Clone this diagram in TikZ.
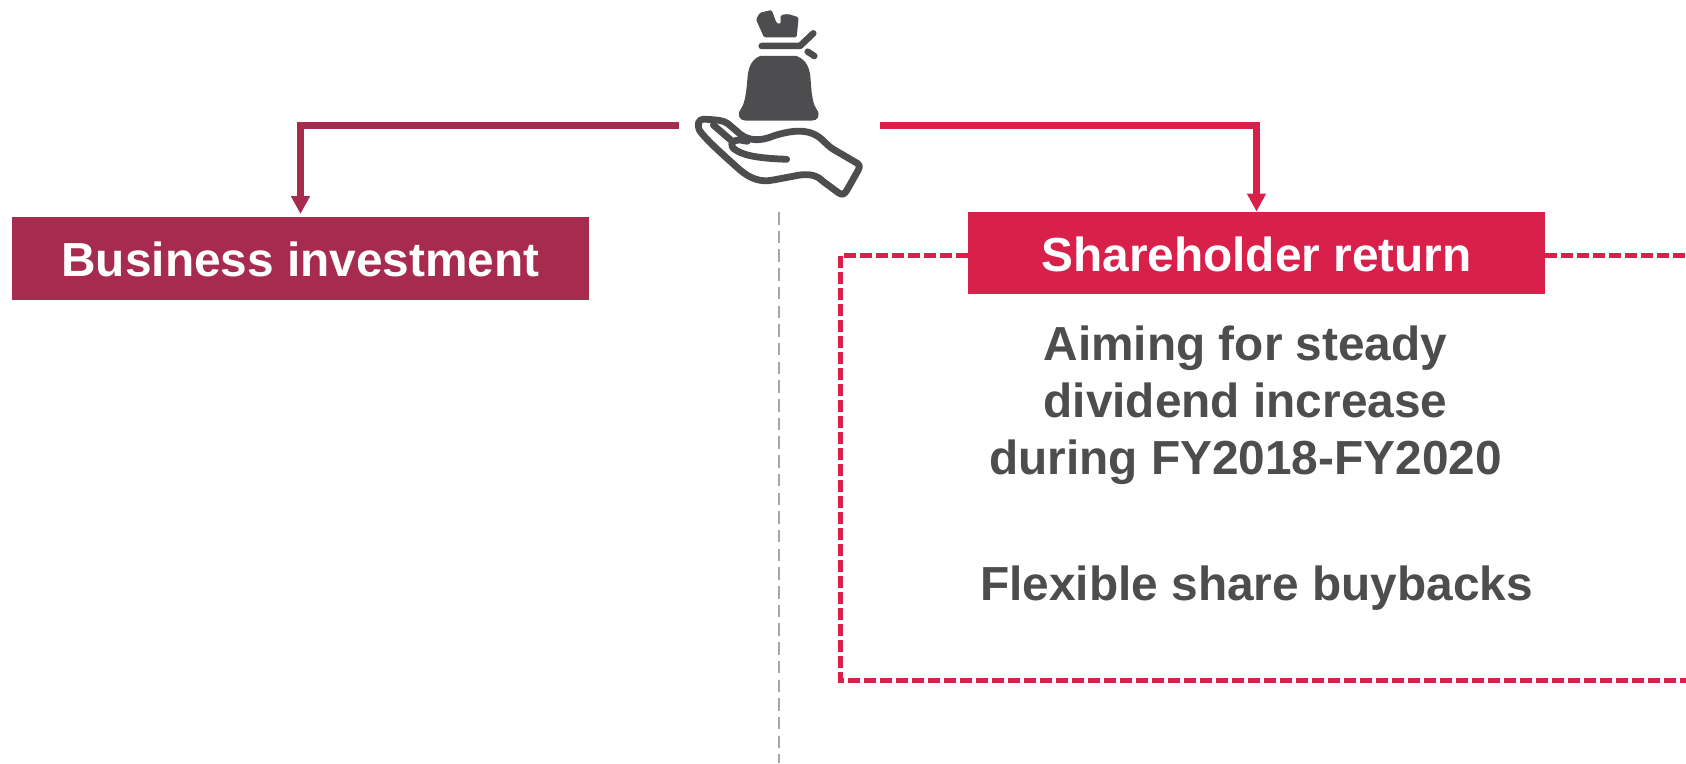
\documentclass[tikz,border=0pt]{standalone}
\usepackage{fontspec}
\setmainfont{Liberation Sans}
\usetikzlibrary{arrows.meta}
\definecolor{wine}{HTML}{A62B4F}
\definecolor{crimson}{HTML}{D9204B}
\definecolor{ink}{HTML}{4D4D4F}
\definecolor{rule}{HTML}{A6A6A6}
\tikzset{
  headbox/.style={fill=#1,text=white,font=\fontsize{47.8}{57}\selectfont\bfseries,minimum width=577pt,minimum height=82.5pt,inner sep=0pt,text height=36pt,text depth=0pt},
  feed/.style={draw=#1,fill=none,line width=6.5pt,-{Triangle[length=18pt,width=18pt]},rounded corners=0pt},
  frame/.style={draw=crimson,line width=4.5pt,dash pattern=on 12pt off 4pt},
  body/.style={text=ink,font=\fontsize{47.8}{57}\selectfont\bfseries,anchor=base,inner sep=0pt},
  bag/.style={fill=ink,draw=none},
  handline/.style={draw=ink,line width=6.8pt,line cap=round,line join=round,fill=none},
}
\begin{document}
\begin{tikzpicture}[x=1pt,y=-1pt]
\useasboundingbox (0,0) rectangle (1686,763);
\fill[white] (0,0) rectangle (1686,763);
% divider
\coordinate (divtop) at (779,212);
\coordinate (divend) at (779,763);
\draw[rule,line width=2.2pt,dash pattern=on 12.5pt off 6.2pt] (divtop) -- (divend);
% frame
\coordinate (frameTL) at (840.5,255.5);
\coordinate (frameBL) at (840.5,680.5);
\coordinate (frameBR) at (1686,680.5);
\coordinate (frameTR) at (1686,255.5);
\coordinate (frameA) at (968,255.5);
\coordinate (frameB) at (1545,255.5);
\draw[frame] (frameA) -- (frameTL) -- (frameBL) -- (frameBR);
\draw[frame] (frameB) -- (frameTR);
% boxes
\node[headbox=wine] (invest) at (300.5,258.5) {Business investment};
\node[headbox=crimson] (share) at (1256.5,253) {Shareholder return};
% connectors
\coordinate (lstart) at (679,125.3);
\coordinate (rstart) at (879.5,125.3);
\draw[feed=wine,shorten >=3pt] (lstart) -| (invest.north);
\draw[feed=crimson] (rstart) -| (share.north);
% texts
\node[body] (t1) at (1245.5,360) {Aiming for steady};
\node[body] (t2) at (1245.5,417) {dividend increase};
\node[body] (t3) at (1245.5,474) {during FY2018-FY2020};
\node[body] (t4) at (1256.5,600) {Flexible share buybacks};
% icon
\begin{scope}[shift={(660,0)},x=0.3333pt,y=-0.3333pt]
\fill[bag,rounded corners=1.5pt] (288,58) -- (300,38) -- (335,30) -- (350,70) -- (362,72) -- (362,45) -- (385,42) -- (416,52) -- (410,112) -- (312,112) -- cycle;
\draw[ink,line width=6.5pt,line cap=round,line join=round] (305,138) -- (420,138) -- (460,100);
\draw[ink,line width=6.5pt,line cap=round] (443,155) -- (463,168);
\fill[bag] (300,168) -- (410,168) .. controls (440,180) and (450,205) .. (452,240) .. controls (455,290) and (460,315) .. (470,328) .. controls (482,345) and (475,362) .. (455,362) -- (258,362) .. controls (238,362) and (230,345) .. (242,328) .. controls (252,315) and (258,290) .. (262,240) .. controls (264,205) and (272,180) .. (300,168) -- cycle;
\draw[handline] (115,378) .. controls (112,362) and (125,355) .. (140,358) .. controls (170,360) and (190,360) .. (205,372) -- (240,402) .. controls (265,422) and (300,425) .. (340,408) .. controls (390,392) and (440,385) .. (475,410) .. controls (495,425) and (500,435) .. (520,448) -- (592,490) .. controls (600,497) and (600,503) .. (595,510) -- (560,572) .. controls (552,585) and (545,585) .. (535,578) -- (490,545) .. controls (470,525) and (450,522) .. (420,525) -- (340,540) .. controls (300,548) and (270,535) .. (240,510) .. controls (190,465) and (150,430) .. (125,400) .. controls (118,392) and (115,385) .. (115,378) -- cycle;
\draw[handline] (380,478) .. controls (310,475) and (260,470) .. (230,452) .. controls (205,438) and (212,420) .. (240,420) -- (262,424);
\draw[handline] (160,375) -- (212,420);
\end{scope}
\end{tikzpicture}
\end{document}
